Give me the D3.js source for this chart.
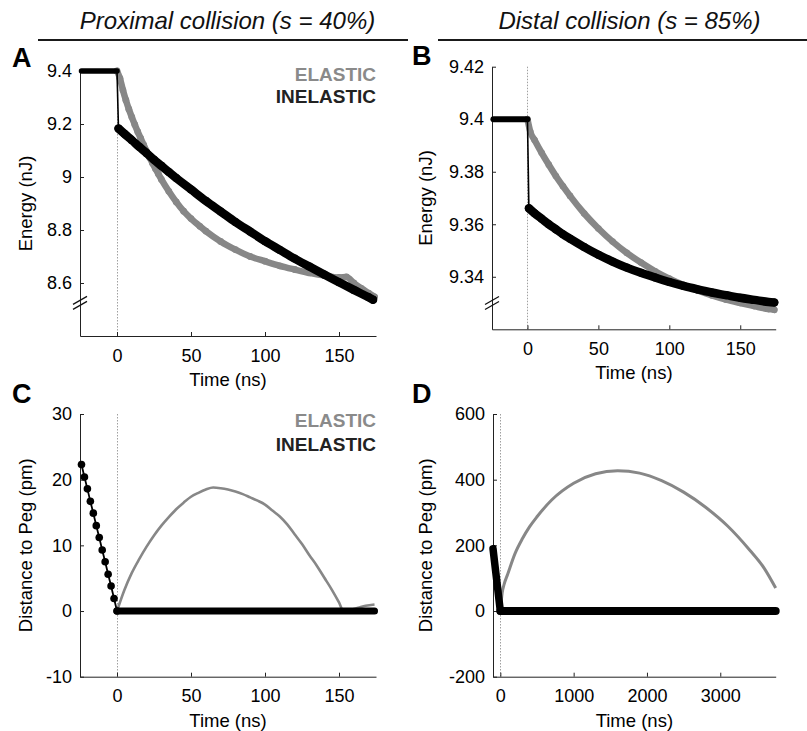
<!DOCTYPE html>
<html>
<head>
<meta charset="utf-8">
<script src="https://cdn.jsdelivr.net/npm/d3@7"></script>
<style>
  body { margin: 0; background: #fff; }
  svg { display: block; font-family: Arial, "Liberation Sans", Helvetica, sans-serif; }
</style>
</head>
<body>
<svg id="fig" width="807" height="731"></svg>
<script>
// ---- Panel A: energy, proximal collision (s = 40%) ----
const aInelPreT  = [-24, -20, -16, -12, -8, -4, 0];
const aInelPreE  = [9.4, 9.4, 9.4, 9.4, 9.4, 9.4, 9.4];
const aInelPostT = [1, 5, 10, 15, 20, 25, 30, 35, 40, 50, 60, 70, 80, 90, 100, 110, 120, 130, 140, 150, 160, 170, 173];
const aInelPostE = [9.183, 9.163, 9.139, 9.114, 9.090, 9.065, 9.042, 9.019, 8.996, 8.953, 8.910, 8.870, 8.830, 8.794, 8.758, 8.725, 8.692, 8.662, 8.632, 8.603, 8.574, 8.546, 8.537];
const aElasT = [0, 2, 4, 6, 8, 10, 12, 14, 16, 18, 20, 22, 24, 26, 28, 30, 35, 40, 45, 50, 56, 60, 70, 80, 90, 100, 110, 120, 130, 140, 150, 155, 160, 165, 170, 174];
const aElasE = [9.400, 9.372, 9.328, 9.290, 9.256, 9.226, 9.198, 9.171, 9.146, 9.121, 9.097, 9.074, 9.052, 9.031, 9.011, 8.991, 8.946, 8.906, 8.871, 8.843, 8.814, 8.796, 8.757, 8.726, 8.700, 8.682, 8.665, 8.651, 8.638, 8.628, 8.621, 8.623, 8.600, 8.580, 8.562, 8.548];

// ---- Panel B: energy, distal collision (s = 85%) ----
const bInelPreT  = [-24, -20, -16, -12, -8, -4, 0];
const bInelPreE  = [9.4, 9.4, 9.4, 9.4, 9.4, 9.4, 9.4];
const bInelPostT = [1, 5, 10, 15, 20, 25, 30, 40, 50, 60, 70, 80, 90, 100, 110, 120, 130, 140, 150, 160, 170, 174];
const bInelPostE = [9.3661, 9.3642, 9.3621, 9.3600, 9.3581, 9.3562, 9.3545, 9.3513, 9.3484, 9.3458, 9.3435, 9.3415, 9.3397, 9.3380, 9.3365, 9.3352, 9.3340, 9.3330, 9.3320, 9.3312, 9.3304, 9.3302];
const bElasT = [0, 2, 5, 10, 15, 20, 25, 30, 40, 50, 60, 70, 80, 90, 100, 110, 120, 130, 140, 150, 160, 170, 174];
const bElasE = [9.4000, 9.3952, 9.3921, 9.3872, 9.3827, 9.3784, 9.3745, 9.3708, 9.3641, 9.3584, 9.3534, 9.3491, 9.3454, 9.3421, 9.3393, 9.3369, 9.3348, 9.3329, 9.3313, 9.3300, 9.3288, 9.3277, 9.3274];

// ---- Panel C: distance to peg, proximal ----
const cInelPreT  = [-24, -22, -20, -18, -16, -14, -12, -10, -8, -6, -4, -2, 0];
const cInelPreD  = [22.3, 20.4, 18.6, 16.7, 14.9, 13.0, 11.2, 9.3, 7.5, 5.6, 3.8, 1.9, 0.0];
const cInelPostT = [0, 25, 50, 75, 100, 125, 150, 174];
const cInelPostD = [0, 0, 0, 0, 0, 0, 0, 0];
const cElasT = [0, 5, 10, 15, 20, 25, 30, 35, 40, 45, 50, 55, 60, 65, 70, 75, 80, 85, 90, 95, 100, 105, 110, 115, 120, 125, 130, 135, 140, 145, 150, 153, 158, 163, 168, 174];
const cElasD = [0, 3.2, 5.8, 7.9, 9.8, 11.5, 13.0, 14.3, 15.5, 16.5, 17.4, 18.0, 18.5, 18.8, 18.7, 18.5, 18.2, 17.8, 17.3, 16.8, 16.2, 15.3, 14.4, 13.2, 11.7, 10.2, 8.5, 6.9, 5.1, 3.3, 1.3, 0, 0.2, 0.5, 0.8, 1.0];

// ---- Panel D: distance to peg, distal ----
const dInelPreT  = [-100, -75, -50, -25, 0];
const dInelPreD  = [190, 142, 95, 47, 0];
const dInelPostT = [0, 1000, 2000, 3000, 3756];
const dInelPostD = [0, 0, 0, 0, 0];
const dElasT = [0, 25, 50, 100, 200, 300, 400, 500, 700, 1000, 1300, 1600, 1900, 2200, 2500, 2800, 3100, 3400, 3600, 3756];
const dElasD = [0, 55, 80, 112, 175, 220, 257, 287, 338, 389, 418, 427, 420, 397, 362, 316, 259, 186, 130, 70];

// ---- Axis ticks and labels ----
const timeTicksShort = [0, 50, 100, 150];
const timeTicksLong  = [0, 1000, 2000, 3000];
const aYTicks = [8.6, 8.8, 9.0, 9.2, 9.4];
const aYLabels = ["8.6", "8.8", "9", "9.2", "9.4"];
const bYTicks = [9.34, 9.36, 9.38, 9.40, 9.42];
const bYLabels = ["9.34", "9.36", "9.38", "9.4", "9.42"];
const cYTicks = [-10, 0, 10, 20, 30];
const dYTicks = [-200, 0, 200, 400, 600];

const titles = ["Proximal collision (s = 40%)", "Distal collision (s = 85%)"];
const legendNames = ["ELASTIC", "INELASTIC"];

const GREY = "#878787";
const BLACK = "#000";
const zip = (ts, vs) => ts.map((t, i) => [t, vs[i]]);

const svg = d3.select("#fig");

// Header titles with rules underneath
svg.append("text").attr("x", 227.5).attr("y", 29).attr("text-anchor", "middle")
  .attr("font-size", 24).attr("font-style", "italic").attr("fill", "#111").text(titles[0]);
svg.append("text").attr("x", 629.5).attr("y", 29).attr("text-anchor", "middle")
  .attr("font-size", 24).attr("font-style", "italic").attr("fill", "#111").text(titles[1]);
svg.append("line").attr("x1", 38).attr("x2", 408).attr("y1", 40).attr("y2", 40)
  .attr("stroke", "#1a1a1a").attr("stroke-width", 2);
svg.append("line").attr("x1", 438).attr("x2", 807).attr("y1", 40).attr("y2", 40)
  .attr("stroke", "#1a1a1a").attr("stroke-width", 2);

function makePanel(cfg) {
  const x = d3.scaleLinear().domain(cfg.xDomain).range([cfg.left, cfg.right]);
  const y = d3.scaleLinear().domain(cfg.yDomain).range([cfg.bottom, cfg.top]);
  const g = svg.append("g");

  // collision instant
  g.append("line")
    .attr("x1", Math.round(x(0)) + 0.5).attr("x2", Math.round(x(0)) + 0.5)
    .attr("y1", cfg.top).attr("y2", cfg.bottom)
    .attr("stroke", "#a0a0a0").attr("stroke-width", 1).attr("stroke-dasharray", "1.5,1.5");

  const ya = d3.axisLeft(y).tickValues(cfg.yTicks)
    .tickFormat((d, i) => cfg.yLabels ? cfg.yLabels[i] : String(d))
    .tickSizeInner(-4).tickSizeOuter(0).tickPadding(8);
  const xa = d3.axisBottom(x).tickValues(cfg.xTicks)
    .tickFormat(d => String(d))
    .tickSizeInner(-4).tickSizeOuter(0).tickPadding(13);

  const gy = g.append("g").attr("transform", `translate(${cfg.left},0)`).call(ya);
  const gx = g.append("g").attr("transform", `translate(0,${cfg.bottom})`).call(xa);
  [gx, gy].forEach(ax => {
    ax.attr("font-family", null).attr("font-size", 18);
    ax.selectAll("path.domain").attr("stroke", "#222");
    ax.selectAll(".tick line").attr("stroke", "#222");
    ax.selectAll("text").attr("fill", "#000");
  });

  // axis break marks
  if (cfg.breakAt !== undefined) {
    const yb = y(cfg.breakAt);
    [-2.5, 2.5].forEach(off => {
      g.append("line")
        .attr("x1", cfg.left - 7).attr("y1", yb + off + 4)
        .attr("x2", cfg.left + 7).attr("y2", yb + off - 4)
        .attr("stroke", "#111").attr("stroke-width", 1.3);
    });
  }

  // axis titles
  g.append("text").attr("x", (cfg.left + cfg.right) / 2).attr("y", cfg.bottom + 50)
    .attr("text-anchor", "middle").attr("font-size", 18.5).text("Time (ns)");
  g.append("text")
    .attr("transform", `translate(${cfg.yLabelX},${(cfg.top + cfg.bottom) / 2}) rotate(-90)`)
    .attr("text-anchor", "middle").attr("font-size", 18.5).text(cfg.yTitle);

  // panel letter
  svg.append("text").attr("x", cfg.letterX).attr("y", cfg.letterY)
    .attr("font-size", 27).attr("font-weight", "bold").text(cfg.letter);

  return { x, y, g };
}

// Draws one series: optional thick band (dense markers), dots and thin connecting line
function series(p, pts, o) {
  const line = d3.line().x(d => p.x(d[0])).y(d => p.y(d[1])).curve(d3.curveMonotoneX);
  if (o.band) {
    p.g.append("path").attr("d", line(pts)).attr("fill", "none")
      .attr("stroke", o.color).attr("stroke-width", o.band)
      .attr("stroke-linecap", "round").attr("stroke-linejoin", "round");
  }
  if (o.thin) {
    p.g.append("path").attr("d", (o.straight ? line.curve(d3.curveLinear) : line)(pts)).attr("fill", "none")
      .attr("stroke", o.color).attr("stroke-width", o.thin)
      .attr("stroke-linejoin", "round");
  }
  if (o.dot) {
    p.g.selectAll(null).data(pts).join("circle")
      .attr("cx", d => p.x(d[0])).attr("cy", d => p.y(d[1]))
      .attr("r", o.dot).attr("fill", o.color);
  }
}

function connector(p, a, b, color, w) {
  p.g.append("line")
    .attr("x1", p.x(a[0])).attr("y1", p.y(a[1]))
    .attr("x2", p.x(b[0])).attr("y2", p.y(b[1]))
    .attr("stroke", color).attr("stroke-width", w);
}

function legend(x, y1, y2) {
  svg.append("text").attr("x", x).attr("y", y1).attr("text-anchor", "end")
    .attr("font-size", 19).attr("font-weight", "bold").attr("fill", "#8a8a8a").text(legendNames[0]);
  svg.append("text").attr("x", x).attr("y", y2).attr("text-anchor", "end")
    .attr("font-size", 19).attr("font-weight", "bold").attr("fill", "#222").text(legendNames[1]);
}

// ---------- A ----------
const pA = makePanel({
  xDomain: [-25, 175], yDomain: [8.4, 9.4], left: 80, right: 376, top: 71, bottom: 336,
  xTicks: timeTicksShort, yTicks: aYTicks, yLabels: aYLabels, breakAt: 8.525,
  yTitle: "Energy (nJ)", yLabelX: 32, letter: "A", letterX: 12, letterY: 67
});
series(pA, zip(aElasT, aElasE), { color: GREY, band: 6.5, dot: 3.4, thin: 1 });
const aPre = zip(aInelPreT, aInelPreE), aPost = zip(aInelPostT, aInelPostE);
connector(pA, aPre[aPre.length - 1], aPost[0], BLACK, 1.6);
series(pA, aPre, { color: BLACK, band: 5.5 });
series(pA, aPost, { color: BLACK, band: 8.5, dot: 4 });
legend(376, 81, 103);

// ---------- B ----------
const pB = makePanel({
  xDomain: [-25, 175], yDomain: [9.32, 9.42], left: 492, right: 775.7, top: 66.7, bottom: 329.3,
  xTicks: timeTicksShort, yTicks: bYTicks, yLabels: bYLabels, breakAt: 9.330,
  yTitle: "Energy (nJ)", yLabelX: 432, letter: "B", letterX: 412, letterY: 65
});
series(pB, zip(bElasT, bElasE), { color: GREY, band: 6.5, dot: 3.3, thin: 1 });
const bPre = zip(bInelPreT, bInelPreE), bPost = zip(bInelPostT, bInelPostE);
connector(pB, bPre[bPre.length - 1], bPost[0], BLACK, 1.6);
series(pB, bPre, { color: BLACK, band: 6 });
series(pB, bPost, { color: BLACK, band: 8.5, dot: 4 });

// ---------- C ----------
const pC = makePanel({
  xDomain: [-25, 175], yDomain: [-10, 30], left: 80, right: 376, top: 414, bottom: 676.7,
  xTicks: timeTicksShort, yTicks: cYTicks,
  yTitle: "Distance to Peg (pm)", yLabelX: 32, letter: "C", letterX: 12, letterY: 403
});
series(pC, zip(cElasT, cElasD), { color: GREY, thin: 2.6 });
series(pC, zip(cInelPreT, cInelPreD), { color: BLACK, thin: 1.8, dot: 3.8, straight: true });
series(pC, zip(cInelPostT, cInelPostD), { color: BLACK, band: 7 });
legend(376, 427, 451);

// ---------- D ----------
const pD = makePanel({
  xDomain: [-100, 3756], yDomain: [-200, 600], left: 493, right: 775.7, top: 414, bottom: 676.7,
  xTicks: timeTicksLong, yTicks: dYTicks,
  yTitle: "Distance to Peg (pm)", yLabelX: 432, letter: "D", letterX: 412, letterY: 403
});
series(pD, zip(dElasT, dElasD), { color: GREY, thin: 3 });
series(pD, zip(dInelPreT, dInelPreD), { color: BLACK, band: 7.5 });
series(pD, zip(dInelPostT, dInelPostD), { color: BLACK, band: 8 });
</script>
</body>
</html>
